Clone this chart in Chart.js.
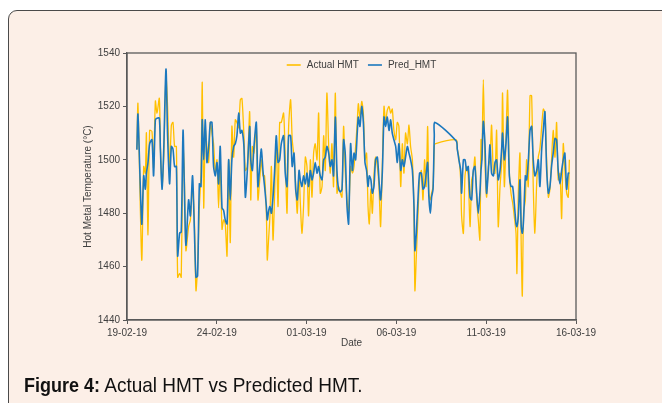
<!DOCTYPE html>
<html>
<head>
<meta charset="utf-8">
<script src="https://cdn.jsdelivr.net/npm/chart.js@4.4.1/dist/chart.umd.min.js"></script>
<style>
  html, body { margin: 0; padding: 0; background: #fff; }
  body { width: 662px; height: 403px; position: relative; overflow: hidden; }
  #frame {
    position: absolute; left: 8px; top: 10px; width: 700px; height: 420px;
    border: 1.5px solid #4a4a4a; border-radius: 9px; background: #fcefe7;
  }
  #wrap { position: absolute; left: 0; top: 0; width: 662px; height: 403px; }
  #caption {
    position: absolute; left: 24px; top: 376px; font-family: "Liberation Sans", Arial, sans-serif;
    font-size: 18px; line-height: 18px; color: #111; white-space: nowrap;
    transform: scale(1.0, 1.1); transform-origin: left top;
  }
  #caption span { font-size: 19px; }
</style>
</head>
<body>
<div id="frame"></div>
<div id="wrap"><canvas id="myChart" width="662" height="403"></canvas></div>
<div id="caption"><b>Figure 4:</b><span> Actual HMT vs Predicted HMT.</span></div>
<script>
// days since 19-02-19
var days = [
  0.55, 0.61, 0.82, 0.93, 1.02, 1.08, 1.17, 1.26, 1.39, 1.48, 1.58, 1.67, 1.80, 1.86, 1.95, 2.04,
  2.17, 2.26, 2.37, 2.47, 2.56, 2.65, 2.75, 2.82, 2.93, 3.02, 3.12, 3.19, 3.28, 3.43, 3.53, 3.65,
  3.75, 3.84, 3.93, 4.03, 4.12, 4.19, 4.27, 4.36, 4.45, 4.55, 4.64, 4.73, 4.82, 4.92, 5.01, 5.10,
  5.19, 5.29, 5.38, 5.47, 5.57, 5.66, 5.75, 5.84, 5.94, 6.03, 6.12, 6.22, 6.31,
  6.40, 6.51, 6.59, 6.70, 6.83, 6.89, 6.98, 7.07, 7.20, 7.29, 7.39, 7.48, 7.57, 7.66, 7.76, 7.81,
  7.89, 7.96, 8.04, 8.13, 8.22, 8.31, 8.41, 8.50, 8.59, 8.72, 8.81, 8.91, 9.00, 9.11, 9.20, 9.30,
  9.39, 9.48, 9.58, 9.65, 9.74, 9.83, 9.93, 10.02, 10.11, 10.21, 10.30, 10.39, 10.48, 10.58, 10.67, 10.76,
  10.86, 10.95, 11.04, 11.13, 11.23, 11.32, 11.41, 11.50, 11.60, 11.69, 11.78, 11.88, 11.97, 12.06, 12.15, 12.25,
  12.34,
  12.45, 12.55, 12.64, 12.73, 12.82, 12.88, 12.97, 13.07, 13.16, 13.25, 13.34, 13.42, 13.49, 13.58, 13.66, 13.75,
  13.84, 13.94, 14.03, 14.12, 14.22, 14.31, 14.40, 14.49, 14.59, 14.68, 14.77, 14.86, 14.96, 15.05, 15.14, 15.24,
  15.33, 15.42, 15.51, 15.61, 15.70, 15.79, 15.89, 15.98, 16.03, 16.11, 16.20, 16.29, 16.39, 16.48, 16.57, 16.66,
  16.74, 16.81, 16.89, 16.96, 17.04, 17.11, 17.15,
  18.33, 18.39, 18.48, 18.58,
  18.63, 18.73, 18.82, 18.91, 19.00, 19.10, 19.19, 19.28, 19.37, 19.47, 19.56, 19.65, 19.71, 19.76, 19.84, 19.93,
  20.02, 20.12, 20.21, 20.30, 20.40, 20.49, 20.58, 20.67, 20.77, 20.86, 20.91, 21.01, 21.10, 21.19, 21.29, 21.38,
  21.47, 21.56, 21.66, 21.71, 21.79, 21.88, 21.95, 22.01, 22.08, 22.18, 22.25, 22.34, 22.44, 22.53, 22.62, 22.71,
  22.81, 22.90, 22.99, 23.09, 23.18, 23.27, 23.36, 23.46, 23.55, 23.64, 23.73, 23.83, 23.92, 24.01, 24.11, 24.20,
  24.29, 24.38, 24.48, 24.57, 24.63
]

var actualHMT = [
  1504, 1521, 1462.5, 1497.5, 1495, 1510, 1471.9, 1511, 1510.6, 1497, 1522, 1517.5, 1523, 1505, 1490, 1500,
  1531, 1520, 1496, 1513, 1514, 1505, 1505, 1456, 1457.5, 1456, 1505, 1495, 1466, 1475, 1477.5, 1489,
  1477.5, 1451, 1460, 1482.5, 1495, 1529, 1482, 1511, 1505, 1499, 1514, 1510, 1506, 1495, 1500, 1482,
  1500, 1474, 1477.5, 1476, 1464, 1500, 1469, 1512.5, 1501, 1515, 1514, 1512, 1522.5,
  1523, 1509, 1496, 1497.5, 1518, 1485, 1505, 1502.5, 1512.5, 1485, 1492.5, 1500, 1494, 1494, 1480, 1462.5,
  1471, 1479, 1497.5, 1470, 1487.5, 1507.5, 1482.5, 1514, 1514, 1517.5, 1501, 1480, 1512.5, 1522.5, 1507.5, 1501,
  1491, 1480, 1495, 1484, 1472.5, 1482.5, 1501, 1497.5, 1479, 1500, 1486, 1502.5, 1506, 1500, 1517.5, 1487.5,
  1490, 1509, 1496, 1525, 1505, 1495, 1506, 1490, 1525, 1487.5, 1490, 1487.5, 1486, 1512.5, 1496, 1485,
  1480,
  1497.5, 1495, 1497.5, 1505, 1514, 1521, 1516, 1521.9, 1517.5, 1500, 1502.5, 1482.5, 1476, 1489, 1480, 1494,
  1501, 1497.5, 1490, 1475, 1499, 1520, 1514, 1518.5, 1520, 1517.5, 1519, 1511, 1507.5, 1514, 1512.5, 1490,
  1506, 1495, 1510, 1506, 1513, 1505, 1500, 1480, 1451, 1464, 1479, 1492.5, 1496, 1485, 1500, 1490,
  1512.5, 1487.5, 1485, 1487.5, 1490, 1505, 1506,
  1507.5, 1504, 1501, 1492.5,
  1479, 1472.5, 1494, 1497.5, 1494, 1475, 1492.5, 1495, 1501, 1485, 1477.5, 1470, 1507.5, 1500, 1530, 1500,
  1486, 1497.5, 1500, 1513, 1495, 1495, 1511, 1475, 1490, 1499, 1525, 1490, 1507.5, 1526, 1495, 1487.5,
  1484, 1479, 1472.5, 1457.5, 1487.5, 1502.5, 1467.5, 1449, 1480, 1485, 1500, 1490, 1524, 1524, 1490, 1472.5,
  1491, 1501, 1504, 1512.5, 1519, 1517.5, 1501, 1486, 1489, 1500, 1511, 1501, 1514, 1492.5, 1495, 1478,
  1506, 1496, 1487.5, 1486, 1500
]

var predHMT = [
  1503.8, 1517, 1476, 1494, 1489, 1495, 1499, 1506, 1507.5, 1494, 1515, 1515.6, 1515.6, 1504, 1489, 1502.5,
  1534, 1509, 1491, 1505, 1504, 1497.5, 1497.5, 1464, 1472.5, 1473, 1511, 1491, 1468, 1485, 1479, 1494,
  1474, 1456, 1456.5, 1491, 1490, 1515, 1500, 1515, 1499, 1505, 1514, 1514, 1497.5, 1494, 1499, 1491,
  1505, 1482, 1481, 1477.5, 1476, 1500, 1485, 1500, 1505, 1506, 1509, 1517.5, 1510,
  1511, 1505, 1486, 1496, 1512.5, 1500, 1496, 1505, 1514, 1490, 1497.5, 1504, 1496, 1490, 1482.5, 1477.5,
  1481, 1482.5, 1480, 1486, 1496, 1509, 1499, 1500, 1506, 1509, 1495, 1490, 1509, 1509, 1497.5, 1502.5,
  1489, 1485, 1496, 1492.5, 1490, 1494, 1491, 1495, 1490, 1496, 1492.5, 1495, 1499, 1495, 1497.5, 1494,
  1492.5, 1500, 1501, 1505, 1502.5, 1497.5, 1500, 1494, 1516, 1496, 1489, 1488, 1489, 1507.5, 1502.5, 1482.5,
  1476,
  1506, 1496, 1502.5, 1500, 1510, 1516, 1512.5, 1520, 1514, 1499, 1496, 1490, 1494, 1492.5, 1487.5, 1490,
  1500, 1501, 1492.5, 1485, 1496, 1516, 1512.5, 1516, 1511, 1515, 1510, 1507.5, 1505, 1499, 1506, 1496,
  1500, 1497.5, 1501, 1505, 1502.5, 1500, 1496, 1482.5, 1466, 1472.5, 1485, 1495, 1495, 1489, 1490, 1495,
  1499, 1486, 1480, 1486, 1489, 1509, 1514,
  1507, 1504, 1500, 1496,
  1487.5, 1500, 1500, 1496, 1497.5, 1486, 1485, 1496, 1497.5, 1487.5, 1480, 1487.5, 1496, 1500, 1514.4, 1506,
  1487.5, 1496, 1505.6, 1495, 1494, 1499, 1500, 1492.5, 1496, 1504, 1510, 1500, 1506, 1516, 1494, 1490,
  1490, 1484, 1476, 1475, 1479, 1492.5, 1475, 1472.5, 1477.5, 1494, 1492.5, 1499, 1511, 1512.5, 1500, 1494,
  1496, 1500, 1490, 1504, 1511, 1518, 1497.5, 1487.5, 1490, 1497.5, 1502.5, 1508, 1507.5, 1496, 1491, 1496,
  1500, 1502.5, 1489, 1495, 1495
]

var dateLabels = ['19-02-19', '24-02-19', '01-03-19', '06-03-19', '11-03-19', '16-03-19']

var actualPts = days.map(function (d, i) { return { x: d, y: actualHMT[i] } })
var predPts = days.map(function (d, i) { return { x: d, y: predHMT[i] } })

var axisColor = '#595959'
var textColor = '#404040'
var textFont = "'Liberation Sans', Arial, sans-serif"

// box round the plot area, and the legend inside it at the top
var frameBox = {
  id: 'frameBox',
  afterDatasetsDraw: function (chart) {
    var a = chart.chartArea
    var ctx = chart.ctx
    ctx.save()
    ctx.strokeStyle = axisColor
    ctx.lineWidth = 1.3
    ctx.strokeRect(a.left, a.top, a.right - a.left, a.bottom - a.top)

    ctx.font = '10px ' + textFont
    ctx.textBaseline = 'middle'
    var lineLen = 14, gap = 6, itemGap = 9
    var items = chart.data.datasets.map(function (ds) {
      return { text: ds.label, color: ds.borderColor, w: ctx.measureText(ds.label).width }
    })
    var total = 0
    items.forEach(function (it, i) { total += lineLen + gap + it.w + (i ? itemGap : 0) })
    var x = (a.left + a.right) / 2 + 10 - total / 2
    var y = a.top + 12
    items.forEach(function (it) {
      ctx.strokeStyle = it.color
      ctx.lineWidth = 1.6
      ctx.beginPath()
      ctx.moveTo(x, y)
      ctx.lineTo(x + lineLen, y)
      ctx.stroke()
      ctx.fillStyle = textColor
      ctx.fillText(it.text, x + lineLen + gap, y)
      x += lineLen + gap + it.w + itemGap
    })
    ctx.restore()
  }
}

var ctx = document.getElementById('myChart')
var myChart = new Chart(ctx, {
  type: 'line',
  data: {
    datasets: [{
      label: 'Actual HMT',
      data: actualPts,
      borderColor: '#FFC000',
      borderWidth: 1.3,
      pointRadius: 0,
      tension: 0.25,
      fill: false,
      order: 1
    },
    {
      label: 'Pred_HMT',
      data: predPts,
      borderColor: '#1B78BE',
      borderWidth: 1.6,
      pointRadius: 0,
      tension: 0.25,
      fill: false,
      order: 0
    }]
  },
  options: {
    animation: false,
    responsive: false,
    layout: { padding: { left: 0, top: 53, right: 86, bottom: 0 } },
    plugins: {
      legend: { display: false },
      tooltip: { enabled: false }
    },
    scales: {
      x: {
        type: 'linear',
        min: 0,
        max: 25,
        afterFit: function (scale) { scale.height = 83 },
        ticks: {
          stepSize: 5,
          color: textColor,
          font: { family: textFont, size: 10 },
          padding: 3,
          maxRotation: 0,
          callback: function (v) { return dateLabels[Math.round(v / 5)] }
        },
        grid: { drawOnChartArea: false, drawTicks: true, tickLength: 4, color: axisColor },
        border: { display: true, color: axisColor, width: 1.3 },
        title: {
          display: true,
          text: 'Date',
          color: textColor,
          font: { family: textFont, size: 10 },
          padding: { top: 0, bottom: 54 }
        }
      },
      y: {
        min: 1440,
        max: 1540,
        afterFit: function (scale) { scale.width = 127 },
        ticks: {
          stepSize: 20,
          color: textColor,
          font: { family: textFont, size: 10 },
          padding: 3,
          callback: function (v) { return String(v) }
        },
        grid: { drawOnChartArea: false, drawTicks: true, tickLength: 4, color: axisColor },
        border: { display: true, color: axisColor, width: 1.3 },
        title: {
          display: true,
          text: 'Hot Metal Temperature (°C)',
          color: textColor,
          font: { family: textFont, size: 10 },
          padding: { top: 82, bottom: 0 }
        }
      }
    }
  },
  plugins: [frameBox]
})
</script>
</body>
</html>
